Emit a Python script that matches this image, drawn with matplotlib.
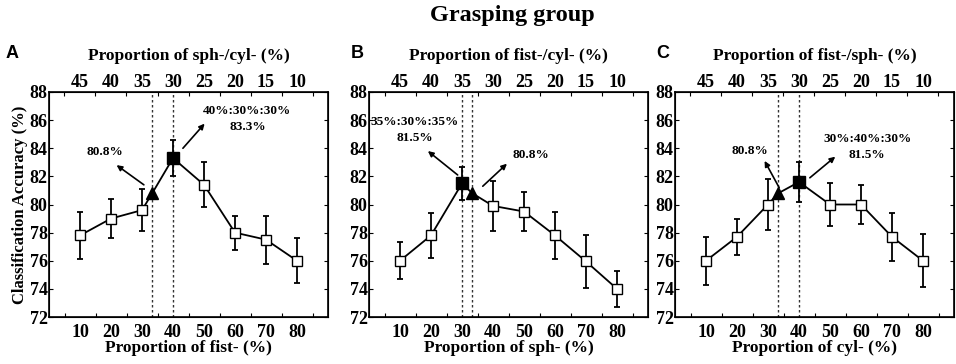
import matplotlib
matplotlib.use('Agg')
import matplotlib.pyplot as plt
import numpy as np

plt.rcParams['font.family'] = 'Liberation Serif'
plt.rcParams['font.weight'] = 'bold'

x_bottom = [10, 20, 30, 40, 50, 60, 70, 80]
top_labels = ['45', '40', '35', '30', '25', '20', '15', '10']

acc_a = [77.8, 79.0, 79.6, 83.3, 81.4, 78.0, 77.5, 76.0]
err_a = [1.7, 1.4, 1.5, 1.3, 1.6, 1.2, 1.7, 1.6]
acc_b = [76.0, 77.8, 81.5, 79.9, 79.5, 77.8, 75.95, 74.0]
err_b = [1.3, 1.6, 1.2, 1.8, 1.4, 1.7, 1.9, 1.3]
acc_c = [76.0, 77.7, 80.0, 81.6, 80.0, 80.0, 77.7, 76.0]
err_c = [1.7, 1.3, 1.8, 1.4, 1.5, 1.4, 1.7, 1.9]

equal_x = 33.3                 # triangle (equal proportions)
equal_acc = 80.8

panels = [
    dict(letter='A', acc=acc_a, err=err_a, best=40,
         top='Proportion of sph-/cyl- (%)', bottom='Proportion of fist- (%)',
         best_text='40%:30%:30%\n83.3%',
         sq_arrow=((43.2, 84.0), (50.2, 85.75)), sq_text=(64, 86.1),
         tri_arrow=((30.6, 81.4), (21.8, 82.8)), tri_text=(18, 83.7)),
    dict(letter='B', acc=acc_b, err=err_b, best=30,
         top='Proportion of fist-/cyl- (%)', bottom='Proportion of sph- (%)',
         best_text='35%:30%:35%\n81.5%',
         sq_arrow=((28.6, 82.1), (19.0, 83.8)), sq_text=(14.8, 85.3),
         tri_arrow=((36.7, 81.3), (44.5, 82.9)), tri_text=(52.2, 83.5)),
    dict(letter='C', acc=acc_c, err=err_c, best=40,
         top='Proportion of fist-/sph- (%)', bottom='Proportion of cyl- (%)',
         best_text='30%:40%:30%\n81.5%',
         sq_arrow=((43.5, 81.9), (51.7, 83.4)), sq_text=(62, 84.1),
         tri_arrow=((33.6, 81.2), (28.9, 83.1)), tri_text=(24, 83.8)),
]

fig = plt.figure(figsize=(9.56, 3.64), dpi=100)
lefts = [49 / 956, 369 / 956, 675 / 956]
width = 279 / 956
bottom = 1 - 317 / 364
height = 225 / 364

fig.text(512 / 956, 1 - 16 / 364, 'Grasping group', ha='center', va='center',
         fontsize=17.5, fontweight='bold')

for i, p in enumerate(panels):
    ax = fig.add_axes([lefts[i], bottom, width, height])
    # main line incl. the equal-proportion point (triangle)
    xs = list(x_bottom) + [equal_x]
    ys = list(p['acc']) + [equal_acc]
    order = np.argsort(xs)
    ax.plot(np.array(xs)[order], np.array(ys)[order], color='black', lw=1.3, zorder=2)
    ax.errorbar(x_bottom, p['acc'], yerr=p['err'], fmt='none', ecolor='black',
                elinewidth=1.3, capsize=2.5, capthick=1.3, zorder=2)
    others = [j for j, xv in enumerate(x_bottom) if xv != p['best']]
    ax.plot([x_bottom[j] for j in others], [p['acc'][j] for j in others], 's',
            ms=6.5, mfc='white', mec='black', mew=1.0, zorder=3)
    bi = x_bottom.index(p['best'])
    ax.plot(p['best'], p['acc'][bi], 's', ms=9, color='black', zorder=4)
    ax.plot(equal_x, equal_acc, '^', ms=9, color='black', zorder=4)
    for xv in (p['best'], equal_x):
        ax.axvline(xv, color='#333333', ls=(0, (1.8, 1.8)), lw=1.0, zorder=1)

    for (start, end), (tx, ty), txt in [
            (p['sq_arrow'], p['sq_text'], p['best_text']),
            (p['tri_arrow'], p['tri_text'], '80.8%')]:
        ax.annotate('', xy=end, xytext=start,
                    arrowprops=dict(arrowstyle='-|>', color='black', lw=1.2,
                                    mutation_scale=8, shrinkA=0, shrinkB=0))
        ax.text(tx, ty, txt, ha='center', va='center', fontsize=9.5,
                fontweight='bold', linespacing=1.4)

    ax.set_xlim(0, 90)
    ax.set_ylim(72, 88)
    ax.set_xticks(x_bottom)
    ax.set_xticks(np.arange(5, 90, 5), minor=True)
    ax.set_yticks(np.arange(72, 89, 2))
    ax.tick_params(axis='both', which='both', direction='in', labelsize=13,
                   top=False, right=True, length=3, width=0.8, pad=4)
    ax.tick_params(axis='x', which='major', length=0, pad=5)
    ax.tick_params(axis='x', which='minor', length=3)
    ax.tick_params(axis='y', which='major', pad=1)
    for lbl in ax.get_xticklabels() + ax.get_yticklabels():
        lbl.set_fontweight('bold')
    for s in ax.spines.values():
        s.set_linewidth(1.2)
    ax.set_xlabel(p['bottom'], fontsize=12.5, fontweight='bold', labelpad=-1)
    if i == 0:
        ax.set_ylabel('Classification Accuracy (%)', fontsize=12, fontweight='bold',
                      labelpad=1)

    ax2 = ax.twiny()
    ax2.set_xlim(0, 90)
    ax2.set_xticks(x_bottom)
    ax2.set_xticklabels(top_labels)
    ax2.set_xticks(np.arange(5, 90, 5), minor=True)
    ax2.tick_params(axis='x', which='major', length=0, labelsize=13, pad=1)
    ax2.tick_params(axis='x', which='minor', direction='in', length=3, width=0.8)
    for lbl in ax2.get_xticklabels():
        lbl.set_fontweight('bold')
    ax2.set_xlabel(p['top'], fontsize=12.5, fontweight='bold', labelpad=10)

    fig.text(lefts[i] - (37 if i == 0 else 12) / 956, 1 - 54 / 364, p['letter'],
             ha='center', va='center', fontsize=13, fontweight='bold',
             family='Liberation Sans')

fig.savefig('out.png', dpi=100)
